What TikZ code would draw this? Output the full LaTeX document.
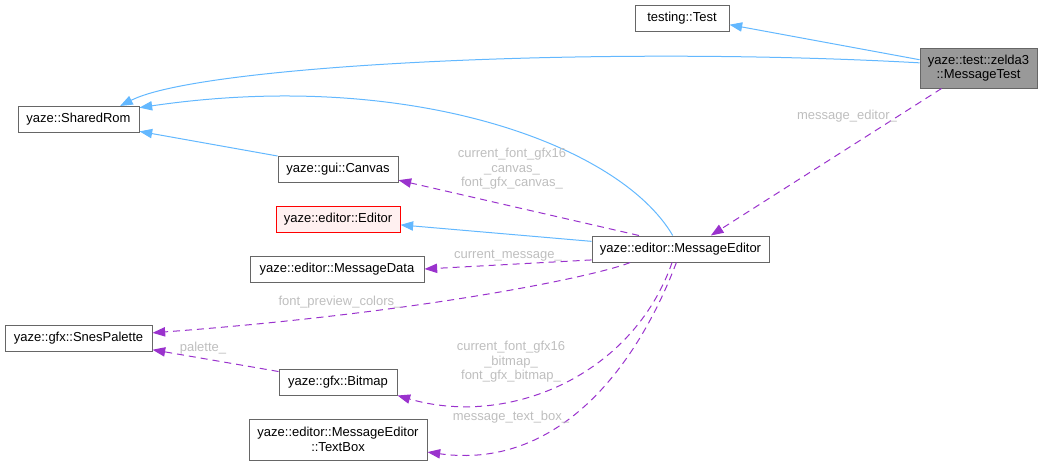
\documentclass[tikz,border=0pt]{standalone}
\usepackage{fontspec}
\setmainfont{Liberation Sans}
\usetikzlibrary{arrows.meta}
\definecolor{edgeblue}{HTML}{63B8FF}
\definecolor{edgepurple}{HTML}{9A32CD}
\definecolor{lblgray}{HTML}{BEBEBE}
\definecolor{boxgray}{HTML}{666666}
\definecolor{selgray}{HTML}{999999}
\definecolor{editorfill}{HTML}{FFF0F0}
\begin{document}
\begin{tikzpicture}[x=0.75pt, y=-0.75pt,
    font=\fontsize{9.75}{10.9}\selectfont,
    cls/.style={draw=boxgray, line width=0.75pt, fill=white, inner sep=0pt,
      minimum height=19.5pt, align=center},
    inherit/.style={edgeblue, line width=0.75pt, -{Triangle[length=9.5pt, width=7pt]}},
    usage/.style={edgepurple, line width=0.75pt, dash pattern=on 5.25pt off 3.75pt,
      -{Triangle[length=9.5pt, width=7pt]}},
    lbl/.style={lblgray, align=center}]
    \useasboundingbox (0,0) rectangle (1044,465);

    % classes
    \node[cls, minimum width=70.5pt] (test) at (682,18) {testing::Test};
    \node[cls, fill=selgray, minimum width=87.75pt, minimum height=30pt] (msgtest)
      at (978.5,68) {yaze::test::zelda3\\::MessageTest};
    \node[cls, minimum width=90.75pt] (sharedrom) at (78.5,119.5) {yaze::SharedRom};
    \node[cls, minimum width=90pt] (canvas) at (338,169.5) {yaze::gui::Canvas};
    \node[cls, draw=red, fill=editorfill, minimum width=93pt] (editor)
      at (338,219.5) {yaze::editor::Editor};
    \node[cls, minimum width=130.5pt] (msgdata) at (337,269) {yaze::editor::MessageData};
    \node[cls, minimum width=132.75pt] (msged) at (680.5,249) {yaze::editor::MessageEditor};
    \node[cls, minimum width=110.25pt] (snes) at (78.5,338) {yaze::gfx::SnesPalette};
    \node[cls, minimum width=88.5pt] (bitmap) at (338,382) {yaze::gfx::Bitmap};
    \node[cls, minimum width=133.5pt, minimum height=30.75pt] (textbox)
      at (338,439.5) {yaze::editor::MessageEditor\\::TextBox};

    % inheritance
    \draw[inherit] (msgtest.172) -- (test.-8);
    \draw[inherit] (msgtest.175) .. controls (600,45) and (200,65) .. (sharedrom.18);
    \draw[inherit] (msged.120) .. controls (620,145) and (410,68) .. (sharedrom.11);
    \draw[inherit] (canvas.north west) -- (sharedrom.-11);
    \draw[inherit] (msged) -- (editor);

    % members
    \draw[usage] (msgtest.-151) -- (msged.24);
    \draw[usage] (msged.162) -- (canvas.-10);
    \draw[usage] (msged.-173) -- (msgdata.east);
    \draw[usage] (msged.-165) .. controls (600,275) and (430,312) .. (snes.4);
    \draw[usage] (bitmap.170) -- (snes.-9);
    \draw[usage] (msged.-122) .. controls (633,375) and (509,428) .. (bitmap.south east);
    \draw[usage] (msged.-107) .. controls (636,369) and (557,470) .. (textbox.-8);

    % labels
    \node[lbl] (lbleditor) at (847,116) {message\_editor\_};
    \node[lbl] (lblcanvas) at (512,169) {current\_font\_gfx16\\\_canvas\_\\font\_gfx\_canvas\_};
    \node[lbl] (lblmsg) at (508,256) {current\_message\_};
    \node[lbl] (lblcolors) at (340,302) {font\_preview\_colors\_};
    \node[lbl] (lblpalette) at (203,348) {palette\_};
    \node[lbl] (lblbitmap) at (511,362) {current\_font\_gfx16\\\_bitmap\_\\font\_gfx\_bitmap\_};
    \node[lbl] (lbltextbox) at (511,417) {message\_text\_box\_};
  \end{tikzpicture}
\end{document}
